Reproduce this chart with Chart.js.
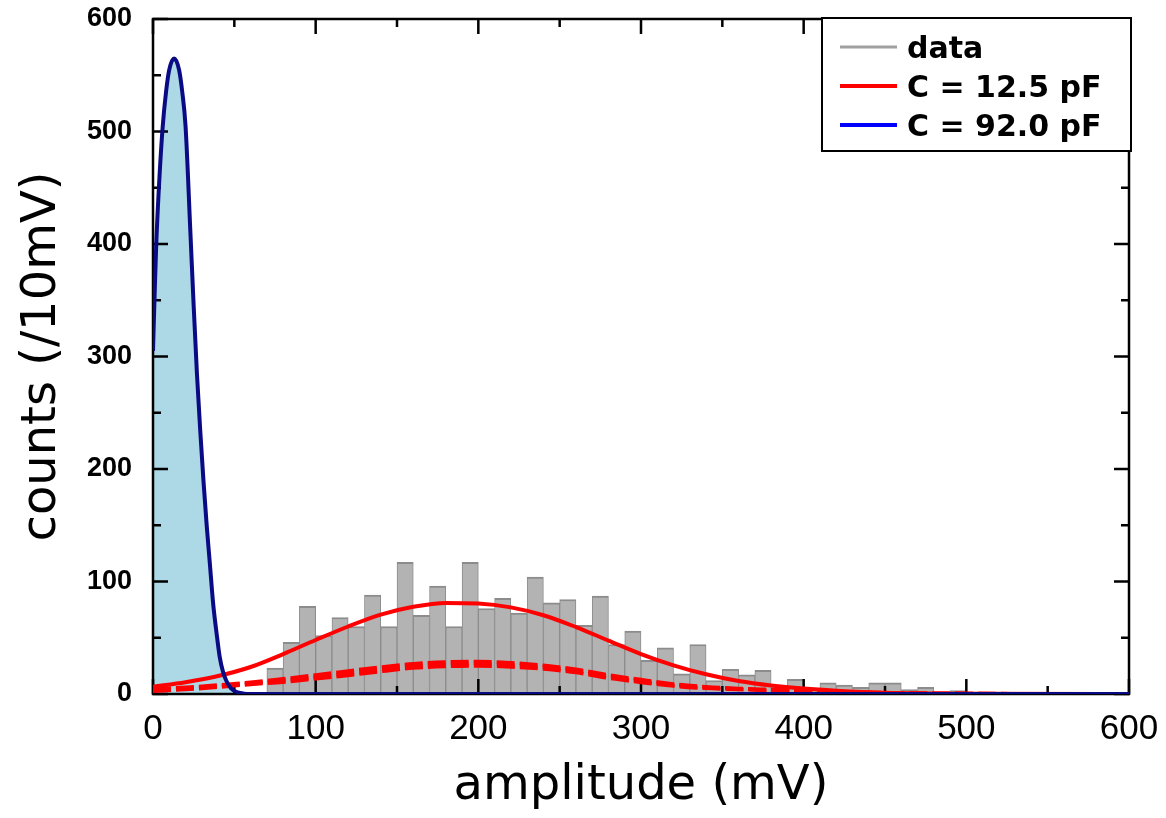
<!DOCTYPE html>
<html>
<head>
<meta charset="utf-8">
<script src="https://cdn.jsdelivr.net/npm/chart.js@4"></script>
<style>
html, body { margin: 0; padding: 0; background: #fff; }
canvas { display: block; }
</style>
</head>
<body>
<canvas id="chart" width="1166" height="818"></canvas>
<script>
// histogram: 10 mV bins, first bin starts at 70 mV
var binWidth = 10;
var histStart = 70;
var counts = [23, 46, 78, 52, 68, 60, 88, 60, 117, 70, 96, 60, 117, 76, 85, 72, 104, 81, 84, 61,
              87, 44, 56, 30, 41, 18, 44, 12, 22, 17, 21, 6, 13, 4, 10, 8, 6, 10, 10, 4, 6, 1, 3];

// C = 92.0 pF fit (narrow peak)
var blueX = [0, 1, 2, 4, 6, 8, 10, 13, 16, 18, 20, 23, 25, 27, 29, 31, 33, 35, 37, 39, 41, 43, 45, 48, 52, 56, 60, 600];
var blueY = [305, 355, 400, 460, 505, 535, 555, 565, 555, 535, 505, 410, 345, 285, 235, 190, 150, 115, 80, 55, 33, 20, 12, 5, 1.5, 0.3, 0, 0];

// C = 12.5 pF fit and its three components
var redX = [0, 20, 40, 60, 80, 100, 120, 140, 160, 180, 200, 220, 240, 260, 280, 300, 320, 340, 360, 380, 400, 420, 450, 500, 600];
var redY = [6.5, 10.5, 16, 24, 35.5, 48, 60, 70.5, 77.5, 81, 80.5, 77, 70, 59.5, 47.5, 35.5, 25.5, 17.5, 11.5, 7.5, 4.8, 3, 1.2, 0.3, 0];
var dashA = [4.5, 6, 8, 10.5, 13.5, 17, 20.5, 24, 27, 28.5, 28.8, 27.8, 25.5, 22, 17, 12.8, 9, 6.5, 5, 4, 3, 2, 1.2, 0.5, 0];
var dashB = [3.5, 5, 7, 9.5, 12, 15, 18.5, 22, 25, 26.5, 26.8, 25.8, 24, 20.5, 15.5, 11.5, 8, 5.8, 4.5, 3.5, 2.5, 1.8, 1, 0.4, 0];
var dashC = [2.5, 4, 6, 8.5, 10.5, 13.5, 16.5, 20, 23, 24.5, 25, 24, 22.3, 19, 14, 10.3, 7, 5, 4, 3, 2, 1.5, 0.8, 0.3, 0];

var legendLabels = ['data', 'C = 12.5 pF', 'C = 92.0 pF'];
var legendColors = ['#a0a0a0', '#ff0000', '#0000ff'];
var xTitle = 'amplitude (mV)';
var yTitle = 'counts (/10mV)';

function pts(xs, ys) {
    return xs.map(function(x, i) { return { x: x, y: ys[i] }; });
}

var histData = counts.map(function(c, i) {
    return { x: histStart + i * binWidth + binWidth / 2, y: c };
});

var BAR_INDEX = 1;

// frame + inward ticks, drawn right after the bars
var frameTicks = {
    id: 'frameTicks',
    afterDatasetDraw: function(chart, args) {
        if (args.index !== BAR_INDEX) return;
        var ctx = chart.ctx, a = chart.chartArea;
        var xs = chart.scales.x, ys = chart.scales.y;
        ctx.save();
        ctx.strokeStyle = '#000';
        ctx.lineWidth = 2.5;
        ctx.strokeRect(a.left, a.top, a.right - a.left, a.bottom - a.top);
        ctx.beginPath();
        for (var v = 0; v <= 600; v += 50) {
            var len = v % 100 === 0 ? 15 : 8;
            var px = xs.getPixelForValue(v);
            ctx.moveTo(px, a.bottom); ctx.lineTo(px, a.bottom - len);
            ctx.moveTo(px, a.top); ctx.lineTo(px, a.top + len);
            var py = ys.getPixelForValue(v);
            ctx.moveTo(a.left, py); ctx.lineTo(a.left + len, py);
            ctx.moveTo(a.right, py); ctx.lineTo(a.right - len, py);
        }
        ctx.stroke();
        ctx.restore();
    }
};

// legend box in the top right corner
var boxLegend = {
    id: 'boxLegend',
    afterDraw: function(chart) {
        var ctx = chart.ctx, a = chart.chartArea;
        var left = a.right - 307, top = a.top - 1, w = 309, h = 133;
        ctx.save();
        ctx.fillStyle = '#fff';
        ctx.fillRect(left, top, w, h);
        ctx.strokeStyle = '#000';
        ctx.lineWidth = 2;
        ctx.strokeRect(left, top, w, h);
        ctx.font = 'bold 30px "DejaVu Sans"';
        ctx.textBaseline = 'alphabetic';
        ctx.textAlign = 'left';
        for (var i = 0; i < legendLabels.length; i++) {
            var ly = top + 29 + i * 39;
            ctx.strokeStyle = legendColors[i];
            ctx.lineWidth = i === 0 ? 3 : 4;
            ctx.beginPath();
            ctx.moveTo(left + 18, ly);
            ctx.lineTo(left + 75, ly);
            ctx.stroke();
            ctx.fillStyle = '#000';
            ctx.fillText(legendLabels[i], left + 85, ly + 11);
        }
        ctx.restore();
    }
};

var curveBase = {
    type: 'line',
    pointRadius: 0,
    fill: false,
    cubicInterpolationMode: 'monotone'
};

new Chart(document.getElementById('chart').getContext('2d'), {
    type: 'line',
    data: {
        datasets: [
            Object.assign({}, curveBase, {
                label: 'fill', data: pts(blueX, blueY), borderWidth: 0,
                backgroundColor: '#add8e6', fill: 'origin', order: 6
            }),
            {
                type: 'bar', label: legendLabels[0], data: histData,
                backgroundColor: '#b3b3b3', borderColor: '#8c8c8c',
                borderWidth: { top: 2, left: 1, right: 1, bottom: 0 },
                barPercentage: 1.0, categoryPercentage: 1.0, order: 5
            },
            Object.assign({}, curveBase, {
                label: 'c1', data: pts(redX, dashA), borderColor: '#ff0000',
                borderWidth: 3.5, borderDash: [18, 5], order: 4
            }),
            Object.assign({}, curveBase, {
                label: 'c2', data: pts(redX, dashB), borderColor: '#ff0000',
                borderWidth: 3.5, borderDash: [18, 5], order: 3
            }),
            Object.assign({}, curveBase, {
                label: 'c3', data: pts(redX, dashC), borderColor: '#ff0000',
                borderWidth: 3.5, borderDash: [18, 5], order: 2
            }),
            Object.assign({}, curveBase, {
                label: legendLabels[1], data: pts(redX, redY), borderColor: '#ff0000',
                borderWidth: 4, order: 1
            }),
            Object.assign({}, curveBase, {
                label: legendLabels[2], data: pts(blueX, blueY), borderColor: '#0a0a84',
                borderWidth: 4, order: 0
            })
        ]
    },
    options: {
        responsive: false,
        animation: false,
        devicePixelRatio: 1,
        layout: { padding: { top: 19, right: 37, left: 0, bottom: 0 } },
        plugins: {
            legend: { display: false },
            tooltip: { enabled: false }
        },
        scales: {
            x: {
                type: 'linear', min: 0, max: 600, offset: false,
                grid: { display: false, drawTicks: false },
                border: { display: false },
                ticks: {
                    stepSize: 100, autoSkip: false, maxRotation: 0, padding: 14,
                    color: '#000', font: { family: 'Liberation Sans', size: 35 }
                },
                title: {
                    display: true, text: xTitle, color: '#000',
                    font: { family: 'DejaVu Sans', size: 48 },
                    padding: { top: 0, bottom: 3 }
                },
                afterFit: function(s) {
                    s.height = 124;
                    s.paddingLeft = 0;
                    s.paddingRight = 0;
                }
            },
            y: {
                type: 'linear', min: 0, max: 600,
                grid: { display: false, drawTicks: false },
                border: { display: false },
                ticks: {
                    stepSize: 100, autoSkip: false, padding: 21,
                    color: '#000', font: { family: 'Liberation Sans', size: 27, weight: 'bold' }
                },
                title: {
                    display: true, text: yTitle, color: '#000',
                    font: { family: 'DejaVu Sans', size: 48 },
                    padding: { top: 14, bottom: 0 }
                },
                afterFit: function(s) {
                    s.width = 153;
                    s.paddingTop = 0;
                    s.paddingBottom = 0;
                }
            }
        }
    },
    plugins: [frameTicks, boxLegend]
});
</script>
</body>
</html>
